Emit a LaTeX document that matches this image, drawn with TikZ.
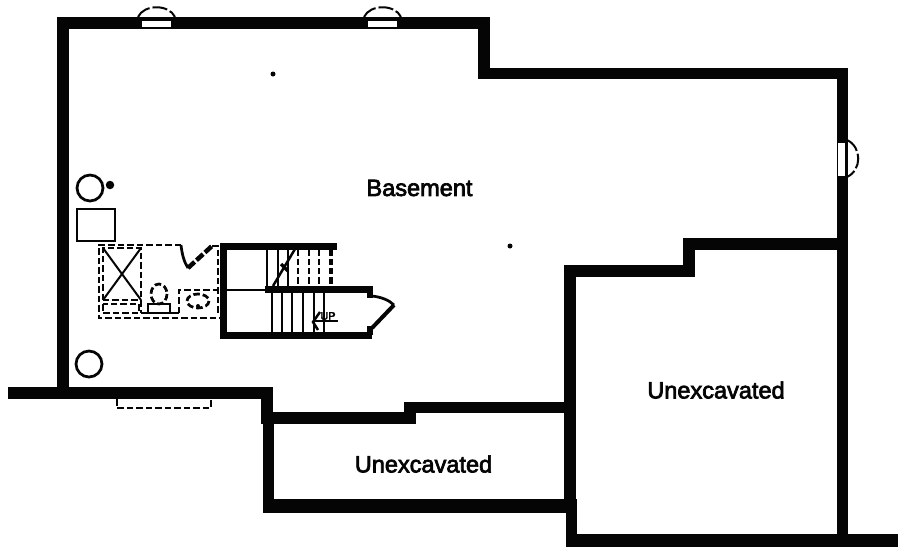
\documentclass[tikz,border=0pt]{standalone}
\usepackage{fontspec}
\setmainfont[FakeBold=3]{Liberation Sans}
\newfontfamily\upfont[FakeBold=3]{Liberation Sans}
\usepackage{xcolor}
\definecolor{ink}{HTML}{050505}
\tikzset{
  wall/.style={draw=ink, line width=0.23cm, line cap=butt, line join=miter},
  stairwall/.style={draw=ink, line width=0.14cm, line join=miter},
  thin/.style={draw=ink, line width=0.05cm},
  fixture/.style={draw=ink, line width=0.055cm},
  hidden/.style={draw=ink, line width=0.055cm, dash pattern=on 0.13cm off 0.06cm},
  swing/.style={draw=ink, line width=0.04cm, dash pattern=on 0.3cm off 0.06cm},
  sash/.style={fill=white},
  lab/.style={text=ink, font=\fontsize{13.4pt}{15pt}\selectfont, inner sep=0pt},
  pin/.style={circle, fill=ink, inner sep=0pt},
}
\begin{document}
\begin{tikzpicture}[x=0.02cm,y=-0.02cm]
  \useasboundingbox (0,0) rectangle (900,558);
  % outer walls
  \draw[wall] (63,393) |- (484,23) |- (842.5,73.5) -- (842.5,541);
  \draw[wall,line width=0.25cm] (8,393) -- (273,393);
  \draw[wall] (267,387) -- (267,424);
  \draw[wall] (268.5,412) -- (268.5,513);
  \draw[wall] (263,418) -- (416,418);
  \draw[wall] (404,407.5) -- (570,407.5);
  \draw[wall,line width=0.28cm] (263,506) -- (577,506);
  \draw[wall] (842.5,244) -| (689,271) -| (570,506);
  \draw[wall] (571.5,499) -- (571.5,546);
  \draw[wall,line width=0.26cm] (566,540.5) -- (898,540.5);
  % windows
  \foreach \xa/\xb in {142/171,368/397}{
    \fill[sash] (\xa,21) rectangle (\xb,27);
    \draw[swing] (\xa-4,17) .. controls (\xa+2,4) and (\xb-2,4) .. (\xb+4,17);
  }
  \fill[sash] (837.5,143) rectangle (845,176);
  \draw[swing] (847,140) .. controls (862,147) and (862,170) .. (847,177);
  \draw[hidden,line width=0.04cm] (117,399) |- (211,408) -- (211,399);
  % stairs
  \draw[stairwall] (337,246) -| (223.5,335) -- (372,335);
  \draw[stairwall,line width=0.13cm] (265,289.5) -- (373,289.5);
  \draw[stairwall,line width=0.12cm] (369.5,289) -- (369.5,298);
  \draw[stairwall,line width=0.12cm] (369.5,326) -- (369.5,335);
  \draw[thin] (224,290) -- (265,290);
  \foreach \X in {267,278,288}
    \draw[thin] (\X,248) -- (\X,287);
  \foreach \X in {298,309,319}
    \draw[hidden] (\X,249) -- (\X,287);
  \draw[hidden,line width=0.08cm] (331,249) -- (331,287);
  \foreach \X in {272,282,292,303,314,324}
    \draw[thin] (\X,292) -- (\X,333);
  \draw[thin] (273,286) -- (295,249);
  \draw[thin,line width=0.07cm] (281,264) -- (288,271);
  \draw[fixture] (372,296) .. controls (381,297) and (389,300) .. (394,305);
  \draw[fixture,line width=0.08cm] (394,305) -- (372,328);
  \draw[thin] (313,321) -- (338,321);
  \draw[thin] (320,312) -- (313,322) -- (318,330);
  \node[font=\upfont\fontsize{6.2pt}{7pt}\selectfont,inner sep=0pt] (up) at (328,316) {UP};
  % bath
  \draw[hidden] (181,245) -- (99,245) |- (220,318);
  \draw[hidden] (212,246) -- (218,246) -- (218,313);
  \draw[fixture] (181,245) .. controls (182,254) and (184,262) .. (188,268);
  \draw[draw=ink,line width=0.09cm,dash pattern=on 0.18cm off 0.05cm] (188,268) -- (212,246);
  \draw[hidden] (103,300) |- (141,248) -- (141,313);
  \draw[hidden] (103,300) -- (141,300);
  \draw[thin,line width=0.04cm] (103,300) -- (141,248);
  \draw[thin,line width=0.04cm] (103,248) -- (141,300);
  \draw[hidden] (103,304) rectangle (139,313);
  \draw[thin] (141,313) -- (179,313);
  \draw[fixture] (148,313) |- (170,304) -- (170,313);
  \draw[hidden] (159,294) ellipse (8 and 10);
  \draw[hidden] (179,313) |- (218,290);
  \draw[hidden] (198,301) ellipse (11 and 7);
  \node[pin,minimum size=0.08cm] (drain) at (198,306) {};
  % equipment
  \draw[fixture] (90,188) circle (13);
  \node[pin,minimum size=0.17cm] (flue) at (110,185) {};
  \draw[fixture] (77,209) rectangle (115,241);
  \draw[fixture] (89,364) circle (13);
  \node[pin,minimum size=0.1cm] (postA) at (273,74) {};
  \node[pin,minimum size=0.1cm] (postB) at (510,246) {};
  % rooms
  \node[lab] (basement) at (419.5,188) {Basement};
  \node[lab] (unexcA) at (716,390) {Unexcavated};
  \node[lab] (unexcB) at (423.5,464) {Unexcavated};
\end{tikzpicture}
\end{document}
